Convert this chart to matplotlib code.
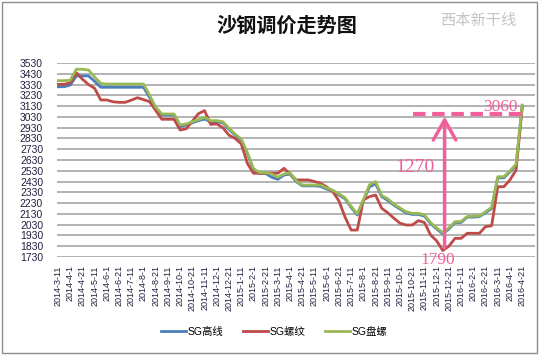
import matplotlib
matplotlib.use("Agg")
import matplotlib.pyplot as plt
from matplotlib.patches import FancyArrowPatch, Rectangle

plt.rcParams['font.family'] = ['Liberation Sans', 'Noto Sans CJK SC', 'DejaVu Sans']

dates = [
    '2014-3-11', '2014-3-21',
    '2014-4-1', '2014-4-11', '2014-4-21',
    '2014-5-1', '2014-5-11', '2014-5-21',
    '2014-6-1', '2014-6-11', '2014-6-21',
    '2014-7-1', '2014-7-11', '2014-7-21',
    '2014-8-1', '2014-8-11', '2014-8-21',
    '2014-9-1', '2014-9-11', '2014-9-21',
    '2014-10-1', '2014-10-11', '2014-10-21',
    '2014-11-1', '2014-11-11', '2014-11-21',
    '2014-12-1', '2014-12-11', '2014-12-21',
    '2015-1-1', '2015-1-11', '2015-1-21',
    '2015-2-1', '2015-2-11', '2015-2-21',
    '2015-3-1', '2015-3-11', '2015-3-21',
    '2015-4-1', '2015-4-11', '2015-4-21',
    '2015-5-1', '2015-5-11', '2015-5-21',
    '2015-6-1', '2015-6-11', '2015-6-21',
    '2015-7-1', '2015-7-11', '2015-7-21',
    '2015-8-1', '2015-8-11', '2015-8-21',
    '2015-9-1', '2015-9-11', '2015-9-21',
    '2015-10-1', '2015-10-11', '2015-10-21',
    '2015-11-1', '2015-11-11', '2015-11-21',
    '2015-12-1', '2015-12-11', '2015-12-21',
    '2016-1-1', '2016-1-11', '2016-1-21',
    '2016-2-1', '2016-2-11', '2016-2-21',
    '2016-3-1', '2016-3-11', '2016-3-21',
    '2016-4-1', '2016-4-11', '2016-4-21',
]

sg_gaoxian = [
    3310, 3310, 3325, 3410, 3410, 3410, 3360, 3305, 3305, 3305,
    3305, 3305, 3305, 3305, 3305, 3210, 3100, 3048, 3048, 3048,
    2940, 2955, 2975, 2995, 3010, 2985, 2985, 2975, 2915, 2860,
    2815, 2690, 2540, 2505, 2505, 2470, 2451, 2490, 2500, 2430,
    2390, 2390, 2390, 2385, 2360, 2340, 2305, 2270, 2190, 2120,
    2250, 2380, 2410, 2290, 2255, 2210, 2175, 2140, 2125, 2125,
    2110, 2040, 1990, 1945, 1990, 2050, 2050, 2100, 2100, 2105,
    2140, 2180, 2465, 2465, 2520, 2580, 3130,
]

sg_luowen = [
    3332, 3332, 3345, 3440, 3380, 3330, 3295, 3187, 3187, 3170,
    3165, 3165, 3185, 3208, 3190, 3171, 3090, 3008, 3008, 3008,
    2908, 2920, 2990, 3060, 3088, 2960, 2965, 2930, 2860, 2830,
    2780, 2600, 2507, 2507, 2507, 2507, 2507, 2553, 2500, 2445,
    2445, 2445, 2430, 2414, 2380, 2336, 2250, 2100, 1980, 1980,
    2259, 2290, 2305, 2182, 2140, 2090, 2043, 2027, 2027, 2067,
    2050, 1934, 1880, 1790, 1830, 1903, 1903, 1950, 1950, 1950,
    2012, 2020, 2382, 2382, 2445, 2537, 3110,
]

sg_panluo = [
    3366, 3366, 3370, 3472, 3472, 3465, 3400, 3340, 3335, 3335,
    3335, 3335, 3335, 3335, 3335, 3230, 3120, 3057, 3057, 3057,
    2955, 2965, 2985, 3005, 3026, 2995, 2995, 2985, 2925, 2870,
    2825, 2700, 2550, 2513, 2513, 2500, 2470, 2500, 2510, 2440,
    2398, 2398, 2398, 2398, 2370, 2350, 2315, 2280, 2200, 2130,
    2260, 2400, 2430, 2300, 2270, 2220, 2185, 2150, 2135, 2135,
    2120, 2050, 2000, 1956, 2000, 2058, 2060, 2105, 2110, 2112,
    2150, 2190, 2475, 2475, 2530, 2590, 3140,
]

series_names = ['SG高线', 'SG螺纹', 'SG盘螺']
series_colors = ['#4A7EBB', '#BE4B48', '#98B954']
yticks = list(range(1730, 3531, 100))

low_value = 1790
high_value = 3060
rise_value = 1270

fig = plt.figure(figsize=(5.4, 3.55), dpi=100)
fig.patch.set_facecolor('white')
ax = fig.add_axes([57 / 540, 1 - 257 / 355, (535 - 57) / 540, (257 - 63) / 355])

x = list(range(len(dates)))
for vals, name, col in zip([sg_gaoxian, sg_luowen, sg_panluo], series_names, series_colors):
    ax.plot(x, vals, color=col, lw=2.0, label=name, solid_joinstyle='round', zorder=3)

ax.set_ylim(1730, 3530)
ax.set_xlim(-0.16, 78.1)
ax.set_yticks(yticks)
ax.set_yticklabels([str(v) for v in yticks], fontsize=7.5, color='#202040')
ax.set_xticks(x[::2])
ax.set_xticklabels(dates[::2], rotation=90, fontsize=6.5, color='#202040')
ax.tick_params(axis='both', length=0)
ax.tick_params(axis='x', pad=6)
ax.tick_params(axis='y', pad=10)
ax.grid(axis='y', color='#A6A6A6', lw=1.2)
ax.set_axisbelow(True)
for s in ax.spines.values():
    s.set_visible(False)

pink = '#F2609C'
ax.plot([58.1, 76.8], [high_value, high_value], ls=(0, (3, 1.6)), color=pink, lw=3, zorder=4,
        clip_on=False)
arr = FancyArrowPatch((63.3, low_value), (63.3, high_value), arrowstyle='->,head_length=0.8,head_width=0.45',
                      mutation_scale=18, color=pink, lw=2.5, zorder=5, clip_on=False)
ax.add_patch(arr)
ax.text(58.5, 2556, str(rise_value), color=pink, fontsize=14, family='Liberation Serif',
        ha='center', va='center', zorder=6)
ax.text(72.4, 3122, str(high_value), color=pink, fontsize=12.5, family='Liberation Serif',
        ha='center', va='center', zorder=6)
ax.text(62.1, 1700, str(low_value), color=pink, fontsize=12.5, family='Liberation Serif',
        ha='center', va='center', zorder=6, clip_on=False)

fig.text(287 / 540, 1 - 25 / 355, '沙钢调价走势图', fontsize=14.5, fontweight='bold',
         family=['Noto Sans CJK SC'], ha='center', va='center', color='#111111')
fig.text(478 / 540, 1 - 21 / 355, '西本新干线', fontsize=11, family=['Noto Sans CJK SC'],
         ha='center', va='center', color='#C4C4C4', style='italic')

fig.legend(loc='center', bbox_to_anchor=(274 / 540, 1 - 332 / 355), ncol=3, frameon=False,
           fontsize=7.5, handlelength=2.4, handletextpad=0.15, columnspacing=1.9)

fig.add_artist(Rectangle((2 / 540, 2 / 355), 535 / 540, 351 / 355, transform=fig.transFigure,
                         fill=False, ec='#8C8C8C', lw=1.0))

fig.savefig('out.png', dpi=100)
